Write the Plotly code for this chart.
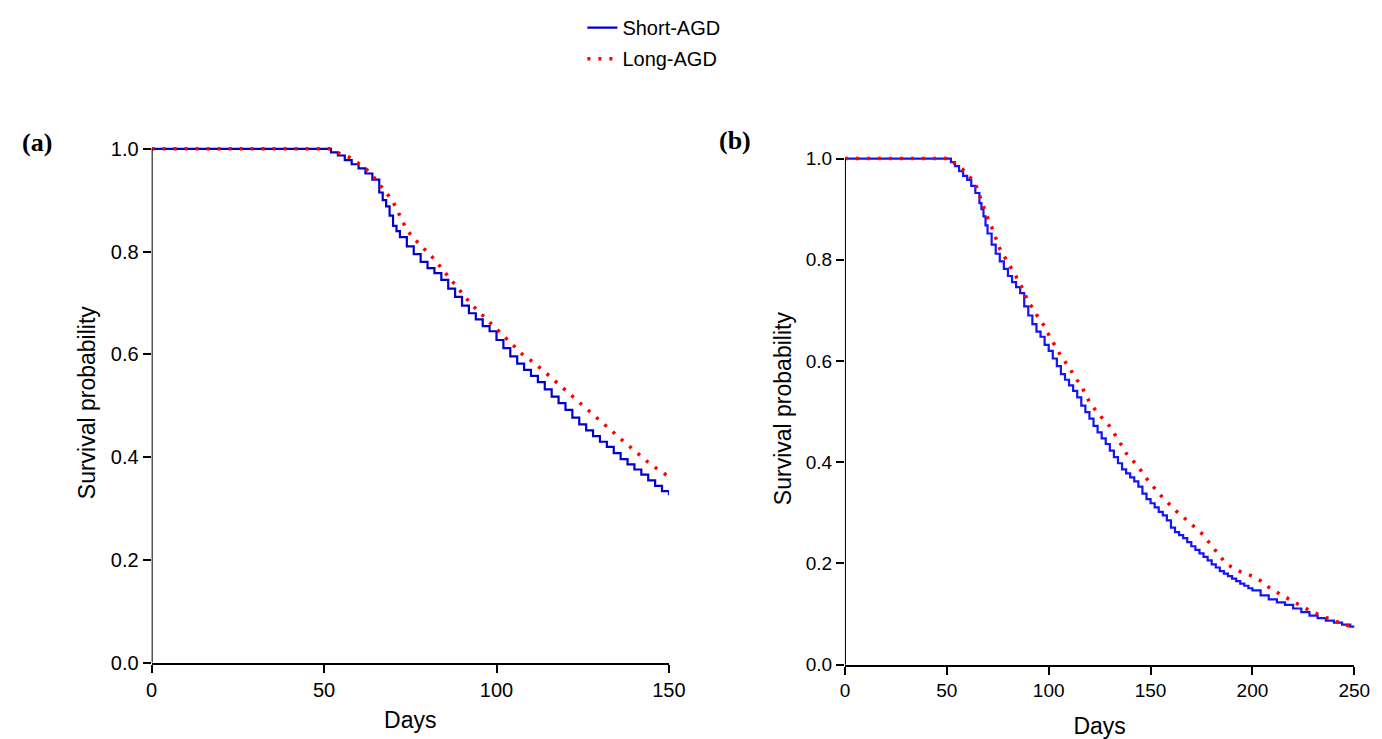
import plotly.graph_objects as go

# ---------------- data ----------------
days_a_short = [0, 50, 52, 54, 56, 58, 60, 62, 64, 66, 67, 68, 69, 70, 71, 72, 74, 76, 78, 80,
                82, 84, 86, 88, 90, 92, 94, 96, 98, 100, 102, 104, 106, 108, 110, 112, 114, 116,
                118, 120, 122, 124, 126, 128, 130, 132, 134, 136, 138, 140, 142, 144, 146, 148, 150]
surv_a_short = [1.0, 1.0, 0.993, 0.987, 0.978, 0.970, 0.962, 0.952, 0.940, 0.915, 0.900, 0.888,
                0.870, 0.850, 0.840, 0.828, 0.810, 0.795, 0.780, 0.768, 0.758, 0.745, 0.728,
                0.712, 0.695, 0.680, 0.668, 0.655, 0.645, 0.628, 0.612, 0.596, 0.582, 0.570,
                0.558, 0.546, 0.532, 0.518, 0.505, 0.492, 0.477, 0.464, 0.452, 0.441, 0.430,
                0.420, 0.408, 0.396, 0.386, 0.376, 0.366, 0.355, 0.344, 0.334, 0.326]

days_a_long = [0, 52, 54, 56, 58, 60, 62, 64, 66, 68, 70, 72, 74, 76, 78, 80, 82, 84, 86, 88,
               90, 92, 94, 96, 98, 100, 102, 104, 106, 108, 110, 112, 114, 116, 118, 120, 122,
               124, 126, 128, 130, 132, 134, 136, 138, 140, 142, 144, 146, 148, 150]
surv_a_long = [1.0, 1.0, 0.992, 0.988, 0.981, 0.972, 0.962, 0.948, 0.932, 0.915, 0.897, 0.868,
               0.842, 0.826, 0.813, 0.800, 0.785, 0.768, 0.752, 0.735, 0.718, 0.703, 0.689,
               0.676, 0.662, 0.648, 0.635, 0.622, 0.609, 0.597, 0.588, 0.578, 0.566, 0.554,
               0.542, 0.530, 0.518, 0.506, 0.495, 0.484, 0.472, 0.460, 0.448, 0.436, 0.424,
               0.413, 0.401, 0.390, 0.380, 0.370, 0.362]

days_b_short = [0, 50, 52, 54, 56, 58, 60, 62, 64, 66, 67, 68, 69, 70, 72, 74, 76, 78, 80, 82,
                84, 86, 88, 90, 92, 94, 96, 98, 100, 102, 104, 106, 108, 110, 112, 114, 116,
                118, 120, 122, 124, 126, 128, 130, 132, 134, 136, 138, 140, 142, 144, 146, 148,
                150, 152, 154, 156, 158, 160, 162, 164, 166, 168, 170, 172, 174, 176, 178, 180,
                182, 184, 186, 188, 190, 192, 194, 196, 198, 200, 204, 208, 212, 216, 220, 224,
                228, 232, 236, 240, 244, 248, 250]
surv_b_short = [1.0, 1.0, 0.993, 0.985, 0.975, 0.966, 0.958, 0.946, 0.932, 0.912, 0.900, 0.886,
                0.868, 0.852, 0.830, 0.812, 0.797, 0.782, 0.768, 0.756, 0.746, 0.734, 0.708,
                0.690, 0.673, 0.658, 0.648, 0.632, 0.620, 0.605, 0.590, 0.574, 0.563, 0.552,
                0.541, 0.528, 0.512, 0.499, 0.486, 0.472, 0.459, 0.447, 0.436, 0.423, 0.410,
                0.398, 0.386, 0.378, 0.370, 0.362, 0.352, 0.338, 0.327, 0.319, 0.311, 0.302,
                0.295, 0.285, 0.271, 0.262, 0.256, 0.250, 0.242, 0.234, 0.227, 0.220, 0.213,
                0.206, 0.198, 0.192, 0.185, 0.180, 0.175, 0.170, 0.165, 0.160, 0.156, 0.151,
                0.147, 0.137, 0.129, 0.123, 0.118, 0.111, 0.104, 0.097, 0.092, 0.087, 0.083,
                0.079, 0.075, 0.074]

days_b_long = [0, 52, 54, 56, 58, 60, 62, 64, 66, 68, 70, 72, 74, 76, 78, 80, 82, 84, 86, 88,
               90, 92, 94, 96, 98, 100, 102, 104, 106, 108, 110, 112, 114, 116, 118, 120, 122,
               124, 126, 128, 130, 132, 134, 136, 138, 140, 142, 144, 146, 148, 150, 152, 154,
               156, 158, 160, 162, 164, 166, 168, 170, 172, 174, 176, 178, 180, 182, 184, 186,
               188, 190, 192, 194, 196, 198, 200, 204, 208, 212, 216, 220, 224, 228, 232, 236,
               240, 244, 248, 250]
surv_b_long = [1.0, 1.0, 0.990, 0.985, 0.978, 0.970, 0.961, 0.951, 0.928, 0.905, 0.883, 0.865,
               0.843, 0.822, 0.808, 0.795, 0.781, 0.767, 0.752, 0.737, 0.715, 0.706, 0.692,
               0.680, 0.668, 0.652, 0.637, 0.622, 0.610, 0.599, 0.586, 0.573, 0.562, 0.551,
               0.534, 0.519, 0.508, 0.498, 0.487, 0.479, 0.471, 0.459, 0.447, 0.432, 0.418,
               0.410, 0.400, 0.391, 0.378, 0.368, 0.358, 0.348, 0.339, 0.330, 0.322, 0.314,
               0.305, 0.298, 0.292, 0.285, 0.279, 0.271, 0.263, 0.256, 0.245, 0.235, 0.224,
               0.214, 0.205, 0.197, 0.192, 0.188, 0.184, 0.181, 0.178, 0.175, 0.166, 0.153,
               0.143, 0.133, 0.125, 0.116, 0.107, 0.100, 0.093, 0.087, 0.081, 0.075, 0.073]

series_names = ["Short-AGD", "Long-AGD"]
x_ticks_a = [0, 50, 100, 150]
x_ticks_b = [0, 50, 100, 150, 200, 250]
y_ticks = [0.0, 0.2, 0.4, 0.6, 0.8, 1.0]
y_tick_text = ["0.0", "0.2", "0.4", "0.6", "0.8", "1.0"]

# ---------------- figure ----------------
W, H = 1382, 739
BLUE_A = "#0000C8"
BLUE_B = "#1414F5"
RED = "#FF0000"
FONT = "Liberation Sans, Arial, sans-serif"
SERIF = "Liberation Serif, Times New Roman, serif"
DOTS = "3px,8px"

fig = go.Figure()

fig.add_trace(go.Scatter(x=days_a_short, y=surv_a_short, mode="lines", name=series_names[0],
                         legendgroup="s", line=dict(color=BLUE_A, width=2.2, shape="hv"),
                         xaxis="x", yaxis="y"))
fig.add_trace(go.Scatter(x=days_a_long, y=surv_a_long, mode="lines", name=series_names[1],
                         legendgroup="l", line=dict(color=RED, width=3.5, dash=DOTS),
                         xaxis="x", yaxis="y"))
fig.add_trace(go.Scatter(x=days_b_short, y=surv_b_short, mode="lines", name=series_names[0],
                         legendgroup="s", line=dict(color=BLUE_B, width=2.2, shape="hv"),
                         xaxis="x2", yaxis="y2", showlegend=False))
fig.add_trace(go.Scatter(x=days_b_long, y=surv_b_long, mode="lines", name=series_names[1],
                         legendgroup="l", line=dict(color=RED, width=3.5, dash=DOTS),
                         xaxis="x2", yaxis="y2", showlegend=False))

def xdom(l, r):
    return [l / W, r / W]

def ydom(bottom_px, top_px):
    return [1 - bottom_px / H, 1 - top_px / H]

YMAX = 1.012
A_L, A_R, A_B, A_T = 140, 666, 664, 138
B_L, B_R, B_B, B_T = 845, 1363, 666, 148
top_a = A_B - (A_B - A_T) * YMAX
top_b = B_B - (B_B - B_T) * YMAX

def axis_style(tick_size):
    return dict(showgrid=False, zeroline=False, linecolor="black", linewidth=2,
                ticks="outside", ticklen=8, tickwidth=2, tickcolor="black",
                tickfont=dict(family=FONT, size=tick_size, color="black"))

TITLE_FONT = dict(family=FONT, size=23, color="black")

fig.update_layout(
    width=W, height=H,
    margin=dict(l=0, r=0, t=0, b=0),
    paper_bgcolor="white", plot_bgcolor="white",
    showlegend=True,
    legend=dict(x=578 / W, xanchor="left", y=1 + 6 / H, yanchor="top", orientation="v",
                traceorder="grouped", tracegroupgap=2,
                font=dict(family=FONT, size=20, color="black"), bgcolor="rgba(0,0,0,0)"),
    xaxis=dict(domain=xdom(A_L, A_R), range=[0, 150], tickvals=x_ticks_a, anchor="y",
               showline=True, title=dict(text="Days", font=TITLE_FONT, standoff=12),
               **axis_style(20)),
    yaxis=dict(domain=ydom(A_B, top_a), range=[0, YMAX], tickvals=y_ticks, ticktext=y_tick_text,
               anchor="x", showline=False,
               title=dict(text="Survival probability", font=TITLE_FONT, standoff=8),
               **axis_style(20)),
    xaxis2=dict(domain=xdom(B_L, B_R), range=[0, 250], tickvals=x_ticks_b, anchor="y2",
                showline=True, title=dict(text="Days", font=TITLE_FONT, standoff=17),
                **axis_style(19)),
    yaxis2=dict(domain=ydom(B_B, top_b), range=[0, YMAX], tickvals=y_ticks, ticktext=y_tick_text,
                anchor="x2", showline=False,
                title=dict(text="Survival probability", font=TITLE_FONT, standoff=7),
                **axis_style(19)),
)

# y axis lines that stop at 1.0 like the reference
fig.add_shape(type="line", xref="x", yref="y", x0=0, x1=0, y0=0, y1=1.0,
              line=dict(color="black", width=2), layer="above")
fig.add_shape(type="line", xref="x2", yref="y2", x0=0, x1=0, y0=0, y1=1.0,
              line=dict(color="black", width=2), layer="above")

# panel labels
fig.add_annotation(text="<b>(a)</b>", xref="paper", yref="paper", x=6 / W, y=1 - 132 / H,
                   xanchor="left", yanchor="middle", showarrow=False,
                   font=dict(family=SERIF, size=26, color="black"))
fig.add_annotation(text="<b>(b)</b>", xref="paper", yref="paper", x=715 / W, y=1 - 129 / H,
                   xanchor="left", yanchor="middle", showarrow=False,
                   font=dict(family=SERIF, size=26, color="black"))

fig.write_html("out.html")
